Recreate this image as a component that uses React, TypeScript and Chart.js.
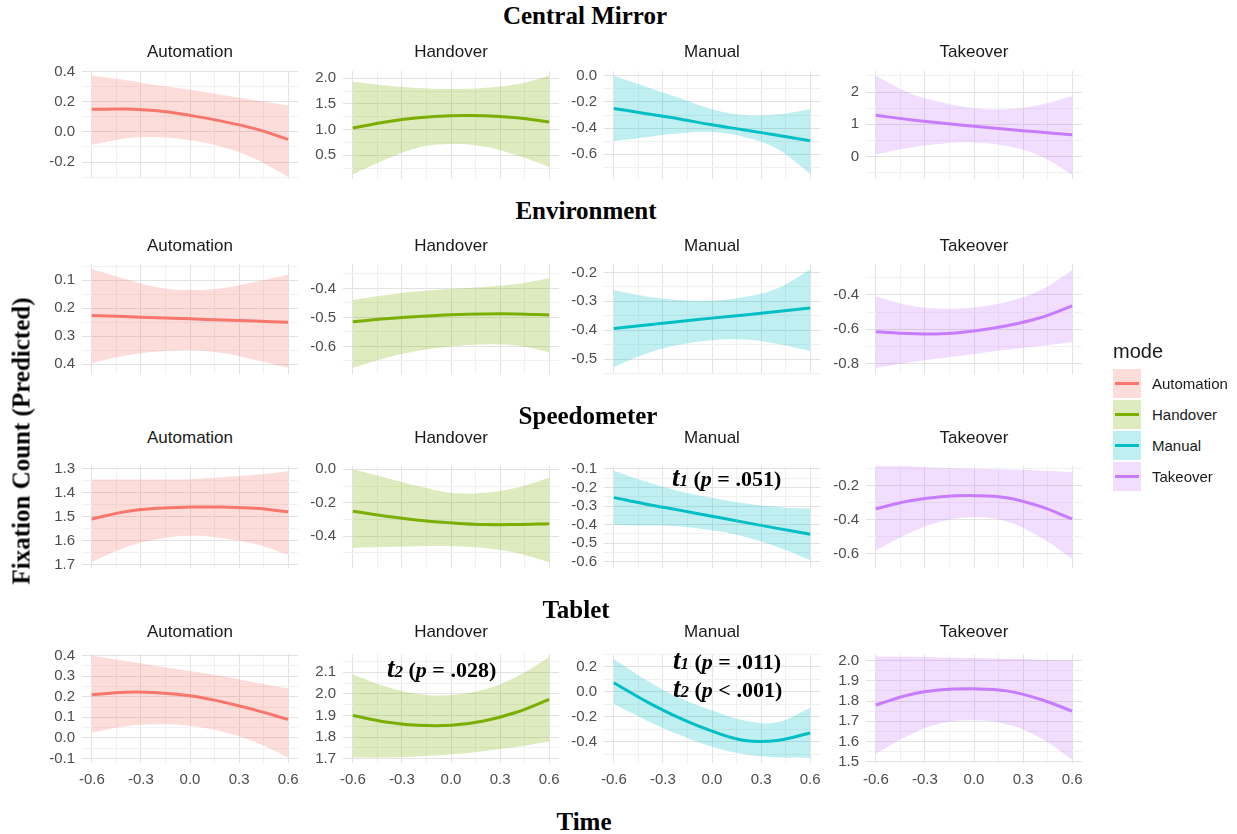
import React, { useEffect, useRef } from 'react';
import { Chart, registerables } from 'chart.js';

Chart.register(...registerables);

// ---------------- data ----------------
const TIME = [-0.6, -0.4, -0.2, 0, 0.2, 0.4, 0.6];
const X_TICK_LABELS = ['-0.6', '-0.3', '0.0', '0.3', '0.6'];
const MODES = ['Automation', 'Handover', 'Manual', 'Takeover'];
const MODE_COLORS = ['#F8766D', '#7CAE00', '#00BFC4', '#C77CFF'];
const AOIS = ['Central Mirror', 'Environment', 'Speedometer', 'Tablet'];

// Central Mirror (Automation, Handover, Manual, Takeover)
const MIRROR_FIT = [
  [0.15, 0.152, 0.14, 0.11, 0.07, 0.02, -0.05],
  [1.03, 1.15, 1.23, 1.27, 1.27, 1.23, 1.15],
  [-0.25, -0.29, -0.33, -0.375, -0.415, -0.455, -0.497],
  [1.28, 1.15, 1.04, 0.94, 0.85, 0.76, 0.68],
];
const MIRROR_LOW = [
  [-0.085, -0.045, -0.035, -0.055, -0.1, -0.18, -0.3],
  [0.13, 0.42, 0.65, 0.72, 0.67, 0.5, 0.28],
  [-0.5, -0.47, -0.44, -0.43, -0.47, -0.56, -0.75],
  [0.07, 0.27, 0.4, 0.44, 0.33, 0.03, -0.55],
];
const MIRROR_HIGH = [
  [0.375, 0.345, 0.31, 0.28, 0.245, 0.21, 0.175],
  [1.93, 1.86, 1.81, 1.79, 1.81, 1.88, 2.05],
  [0.0, -0.085, -0.17, -0.255, -0.3, -0.295, -0.255],
  [2.5, 1.98, 1.68, 1.5, 1.47, 1.6, 1.88],
];
const MIRROR_YTICKS = [
  ['-0.2', '0.0', '0.2', '0.4'],
  ['0.5', '1.0', '1.5', '2.0'],
  ['-0.6', '-0.4', '-0.2', '0.0'],
  ['0', '1', '2'],
];
const MIRROR_YRANGE = [[-0.313, 0.405], [0.04, 2.14], [-0.79, 0.037], [-0.69, 2.65]];

// Environment
const ENV_FIT = [
  [0.226, 0.23, 0.234, 0.238, 0.242, 0.246, 0.25],
  [-0.515, -0.505, -0.497, -0.491, -0.488, -0.488, -0.492],
  [-0.394, -0.382, -0.37, -0.358, -0.347, -0.335, -0.323],
  [-0.615, -0.625, -0.627, -0.61, -0.58, -0.535, -0.464],
];
const ENV_LOW = [
  [0.06, 0.095, 0.125, 0.135, 0.128, 0.105, 0.08],
  [-0.674, -0.64, -0.615, -0.6, -0.593, -0.597, -0.62],
  [-0.527, -0.48, -0.45, -0.434, -0.432, -0.447, -0.471],
  [-0.827, -0.795, -0.77, -0.745, -0.72, -0.698, -0.676],
];
const ENV_HIGH = [
  [0.396, 0.37, 0.355, 0.35, 0.36, 0.385, 0.413],
  [-0.44, -0.423, -0.41, -0.402, -0.395, -0.385, -0.365],
  [-0.262, -0.283, -0.295, -0.297, -0.285, -0.255, -0.19],
  [-0.409, -0.46, -0.48, -0.473, -0.44, -0.375, -0.255],
];
const ENV_YTICKS = [
  ['0.1', '0.2', '0.3', '0.4'],
  ['-0.6', '-0.5', '-0.4'],
  ['-0.5', '-0.4', '-0.3', '-0.2'],
  ['-0.8', '-0.6', '-0.4'],
];
const ENV_YRANGE = [[0.042, 0.435], [-0.695, -0.316], [-0.551, -0.171], [-0.862, -0.219]];

// Speedometer
const SPEED_FIT = [
  [1.51, 1.48, 1.465, 1.46, 1.46, 1.465, 1.48],
  [-0.25, -0.28, -0.305, -0.32, -0.33, -0.33, -0.325],
  [-0.255, -0.29, -0.322, -0.355, -0.388, -0.42, -0.452],
  [-0.335, -0.29, -0.265, -0.258, -0.27, -0.32, -0.395],
];
const SPEED_LOW = [
  [1.345, 1.345, 1.345, 1.343, 1.335, 1.325, 1.31],
  [-0.47, -0.465, -0.46, -0.46, -0.47, -0.5, -0.555],
  [-0.4, -0.405, -0.41, -0.43, -0.465, -0.52, -0.59],
  [-0.58, -0.48, -0.41, -0.385, -0.41, -0.5, -0.63],
];
const SPEED_HIGH = [
  [1.69, 1.63, 1.595, 1.58, 1.59, 1.615, 1.66],
  [0.0, -0.05, -0.1, -0.14, -0.14, -0.11, -0.05],
  [-0.11, -0.17, -0.22, -0.255, -0.285, -0.305, -0.315],
  [-0.07, -0.085, -0.095, -0.1, -0.105, -0.11, -0.12],
];
const SPEED_YTICKS = [
  ['1.3', '1.4', '1.5', '1.6', '1.7'],
  ['-0.4', '-0.2', '0.0'],
  ['-0.6', '-0.5', '-0.4', '-0.3', '-0.2', '-0.1'],
  ['-0.6', '-0.4', '-0.2'],
];
const SPEED_YRANGE = [[1.288, 1.715], [-0.59, 0.02], [-0.633, -0.085], [-0.683, -0.084]];

// Tablet
const TABLET_FIT = [
  [0.21, 0.222, 0.22, 0.205, 0.175, 0.135, 0.09],
  [1.9, 1.87, 1.855, 1.855, 1.875, 1.915, 1.975],
  [0.07, -0.08, -0.21, -0.315, -0.39, -0.39, -0.33],
  [1.78, 1.83, 1.855, 1.86, 1.85, 1.81, 1.75],
];
const TABLET_LOW = [
  [0.025, 0.055, 0.066, 0.058, 0.03, -0.02, -0.095],
  [1.705, 1.705, 1.71, 1.72, 1.735, 1.755, 1.78],
  [-0.1, -0.23, -0.345, -0.44, -0.5, -0.525, -0.53],
  [1.54, 1.63, 1.69, 1.705, 1.685, 1.62, 1.51],
];
const TABLET_HIGH = [
  [0.4, 0.375, 0.35, 0.325, 0.3, 0.27, 0.24],
  [2.09, 2.035, 2.0, 1.995, 2.02, 2.08, 2.17],
  [0.26, 0.09, -0.05, -0.15, -0.23, -0.245, -0.13],
  [2.02, 2.018, 2.015, 2.012, 2.008, 2.004, 2.0],
];
const TABLET_YTICKS = [
  ['-0.1', '0.0', '0.1', '0.2', '0.3', '0.4'],
  ['1.7', '1.8', '1.9', '2.0', '2.1'],
  ['-0.4', '-0.2', '0.0', '0.2'],
  ['1.5', '1.6', '1.7', '1.8', '1.9', '2.0'],
];
const TABLET_YRANGE = [[-0.122, 0.408], [1.68, 2.185], [-0.57, 0.3], [1.494, 2.032]];

const ALL_FIT = [MIRROR_FIT, ENV_FIT, SPEED_FIT, TABLET_FIT];
const ALL_LOW = [MIRROR_LOW, ENV_LOW, SPEED_LOW, TABLET_LOW];
const ALL_HIGH = [MIRROR_HIGH, ENV_HIGH, SPEED_HIGH, TABLET_HIGH];
const ALL_YTICKS = [MIRROR_YTICKS, ENV_YTICKS, SPEED_YTICKS, TABLET_YTICKS];
const ALL_YRANGE = [MIRROR_YRANGE, ENV_YRANGE, SPEED_YRANGE, TABLET_YRANGE];

const ANNOTATIONS = [
  { row: 2, col: 2, n: '1', rel: '=', val: '.051' },
  { row: 3, col: 1, n: '2', rel: '=', val: '.028' },
  { row: 3, col: 2, n: '1', rel: '=', val: '.011' },
  { row: 3, col: 2, n: '2', rel: '<', val: '.001' },
];

// ---------------- layout / style ----------------
const SANS = '"Liberation Sans", Arial, Helvetica, sans-serif';
const SERIF = '"Liberation Serif", "Times New Roman", Times, serif';
const COL_LEFT = [82, 343, 604, 866];
const PLOT_W = 216;
const ROW_TOP = [67, 260, 462, 650];
const ROW_BOTTOM = [183, 378, 572, 763];
const STRIP_CY = [51, 245, 437, 631];
const TITLE_POS = [
  [585, 16],
  [586, 211],
  [588, 416],
  [576, 610],
];
const ANN_POS = [
  [672, 477],
  [387, 668],
  [673, 660],
  [673, 688],
];
const REVERSED = [
  [false, false, false, false],
  [true, false, false, false],
  [true, false, false, false],
  [false, false, false, false],
];
const YW = 70;
const PAD = 12;
const XH = 30;
const MAJOR_GRID = '#E2E2E2';
const MINOR_GRID = '#F1F1F1';
const TICK_COLOR = '#4D4D4D';

function rgba(hex: string, a: number) {
  const r = parseInt(hex.slice(1, 3), 16);
  const g = parseInt(hex.slice(3, 5), 16);
  const b = parseInt(hex.slice(5, 7), 16);
  return `rgba(${r},${g},${b},${a})`;
}

type TickInfo = { v: number; major: boolean; label: string };

function buildTicks(labels: string[], min: number, max: number): TickInfo[] {
  const majors = labels.map(Number);
  const step = majors.length > 1 ? majors[1] - majors[0] : 1;
  const out: TickInfo[] = [];
  for (let k = -40; k <= 60; k++) {
    const v = +(majors[0] + (k * step) / 2).toFixed(6);
    if (v < min - 1e-9 || v > max + 1e-9) continue;
    const major = Math.abs(k % 2) === 0;
    const idx = k / 2;
    const label = major && idx >= 0 && idx < labels.length ? labels[idx] : '';
    out.push({ v, major, label });
  }
  return out;
}

const key = (v: number) => Number(v).toFixed(4);

function Panel({ row, col }: { row: number; col: number }) {
  const ref = useRef<HTMLCanvasElement>(null);
  const showX = row === 3;
  const plotH = ROW_BOTTOM[row] - ROW_TOP[row];
  const width = YW + PLOT_W + PAD;
  const height = PAD + plotH + (showX ? XH : 0) + PAD;
  const left = COL_LEFT[col] - YW;
  const top = ROW_TOP[row] - PAD;

  useEffect(() => {
    const color = MODE_COLORS[col];
    const fit = ALL_FIT[row][col];
    const low = ALL_LOW[row][col];
    const high = ALL_HIGH[row][col];
    const [yMin, yMax] = ALL_YRANGE[row][col];
    const yt = buildTicks(ALL_YTICKS[row][col], yMin, yMax);
    const yMap = new Map(yt.map((t) => [key(t.v), t]));
    const xt = buildTicks(X_TICK_LABELS, -0.66, 0.66);
    const xMap = new Map(xt.map((t) => [key(t.v), t]));

    const chart = new Chart(ref.current as HTMLCanvasElement, {
      type: 'line',
      data: {
        datasets: [
          {
            data: TIME.map((x, i) => ({ x, y: high[i] })),
            borderColor: 'transparent',
            borderWidth: 0,
            pointRadius: 0,
            fill: false,
            tension: 0.4,
          },
          {
            data: TIME.map((x, i) => ({ x, y: low[i] })),
            borderColor: 'transparent',
            borderWidth: 0,
            backgroundColor: rgba(color, 0.25),
            pointRadius: 0,
            fill: '-1',
            tension: 0.4,
          },
          {
            data: TIME.map((x, i) => ({ x, y: fit[i] })),
            borderColor: color,
            borderWidth: 3,
            pointRadius: 0,
            fill: false,
            tension: 0.4,
          },
        ],
      } as any,
      options: {
        responsive: false,
        animation: false,
        devicePixelRatio: 1,
        layout: { padding: { top: PAD, bottom: PAD, left: 0, right: PAD } },
        plugins: {
          legend: { display: false },
          tooltip: { enabled: false },
          title: { display: false },
        },
        scales: {
          x: {
            type: 'linear',
            min: -0.66,
            max: 0.66,
            bounds: 'data',
            afterBuildTicks: (s: any) => {
              s.ticks = xt.map((t) => ({ value: t.v }));
            },
            afterFit: (s: any) => {
              s.height = showX ? XH : 0;
            },
            ticks: {
              display: showX,
              autoSkip: false,
              maxRotation: 0,
              padding: 8,
              color: TICK_COLOR,
              font: { family: SANS, size: 15 },
              callback: (v: any) => xMap.get(key(v))?.label ?? '',
            },
            grid: {
              drawTicks: false,
              lineWidth: 1,
              color: (ctx: any) => (ctx.tick && xMap.get(key(ctx.tick.value))?.major ? MAJOR_GRID : MINOR_GRID),
            },
            border: { display: false },
          },
          y: {
            type: 'linear',
            min: yMin,
            max: yMax,
            reverse: REVERSED[row][col],
            bounds: 'data',
            afterBuildTicks: (s: any) => {
              s.ticks = yt.map((t) => ({ value: t.v }));
            },
            afterFit: (s: any) => {
              s.width = YW;
            },
            ticks: {
              autoSkip: false,
              padding: 7,
              color: TICK_COLOR,
              font: { family: SANS, size: 15 },
              callback: (v: any) => yMap.get(key(v))?.label ?? '',
            },
            grid: {
              drawTicks: false,
              lineWidth: 1,
              color: (ctx: any) => (ctx.tick && yMap.get(key(ctx.tick.value))?.major ? MAJOR_GRID : MINOR_GRID),
            },
            border: { display: false },
          },
        },
      } as any,
    });
    return () => chart.destroy();
  }, [row, col]);

  return (
    <canvas
      ref={ref}
      width={width}
      height={height}
      style={{ position: 'absolute', left, top, width, height }}
    />
  );
}

function Annotation({ idx }: { idx: number }) {
  const a = ANNOTATIONS[idx];
  const [x, cy] = ANN_POS[idx];
  return (
    <div
      style={{
        position: 'absolute',
        left: x,
        top: cy - 14,
        height: 28,
        lineHeight: '28px',
        fontFamily: SERIF,
        fontWeight: 700,
        fontSize: 22,
        color: '#000',
        whiteSpace: 'nowrap',
      }}
    >
      <span style={{ fontStyle: 'italic', fontSize: 27 }}>t</span>
      <span style={{ fontStyle: 'italic', fontSize: 17 }}>{a.n}</span>
      {' ('}
      <span style={{ fontStyle: 'italic' }}>p</span>
      {` ${a.rel} ${a.val})`}
    </div>
  );
}

export default function App() {
  const panels: React.ReactNode[] = [];
  for (let r = 0; r < 4; r++) {
    for (let c = 0; c < 4; c++) {
      panels.push(<Panel key={`p${r}${c}`} row={r} col={c} />);
      panels.push(
        <div
          key={`s${r}${c}`}
          style={{
            position: 'absolute',
            left: COL_LEFT[c],
            width: PLOT_W,
            top: STRIP_CY[r] - 8.5,
            lineHeight: '17px',
            fontSize: 17,
            fontFamily: SANS,
            color: '#1A1A1A',
            textAlign: 'center',
          }}
        >
          {MODES[c]}
        </div>
      );
    }
  }

  return (
    <div
      style={{
        position: 'absolute',
        left: 0,
        top: 0,
        width: 1237,
        height: 834,
        background: '#fff',
        overflow: 'hidden',
      }}
    >
      {panels}
      {AOIS.map((t, i) => (
        <div
          key={t}
          style={{
            position: 'absolute',
            left: TITLE_POS[i][0] - 150,
            width: 300,
            top: TITLE_POS[i][1] - 13,
            lineHeight: '25px',
            fontSize: 25,
            fontFamily: SERIF,
            fontWeight: 700,
            color: '#000',
            textAlign: 'center',
          }}
        >
          {t}
        </div>
      ))}
      <div
        style={{
          position: 'absolute',
          left: 584 - 100,
          width: 200,
          top: 822 - 13,
          lineHeight: '25px',
          fontSize: 25,
          fontFamily: SERIF,
          fontWeight: 700,
          textAlign: 'center',
          color: '#000',
        }}
      >
        Time
      </div>
      <div
        style={{
          position: 'absolute',
          left: 21,
          top: 441,
          transform: 'translate(-50%, -50%) rotate(-90deg)',
          lineHeight: '25px',
          fontSize: 25,
          fontFamily: SERIF,
          fontWeight: 700,
          whiteSpace: 'nowrap',
          color: '#000',
        }}
      >
        Fixation Count (Predicted)
      </div>
      {ANNOTATIONS.map((_, i) => (
        <Annotation key={`a${i}`} idx={i} />
      ))}
      <div
        style={{
          position: 'absolute',
          left: 1113,
          top: 341,
          lineHeight: '20px',
          fontSize: 20,
          fontFamily: SANS,
          color: '#1A1A1A',
        }}
      >
        mode
      </div>
      {MODES.map((m, i) => (
        <div
          key={m}
          style={{
            position: 'absolute',
            left: 1113,
            top: 369 + i * 31,
            height: 29,
            display: 'flex',
            alignItems: 'center',
          }}
        >
          <div
            style={{
              width: 28,
              height: 29,
              background: rgba(MODE_COLORS[i], 0.25),
              position: 'relative',
            }}
          >
            <div
              style={{
                position: 'absolute',
                left: 2,
                right: 2,
                top: 13,
                height: 3,
                background: MODE_COLORS[i],
              }}
            />
          </div>
          <div
            style={{
              marginLeft: 11,
              fontSize: 15,
              fontFamily: SANS,
              color: '#1A1A1A',
              whiteSpace: 'nowrap',
            }}
          >
            {m}
          </div>
        </div>
      ))}
    </div>
  );
}
